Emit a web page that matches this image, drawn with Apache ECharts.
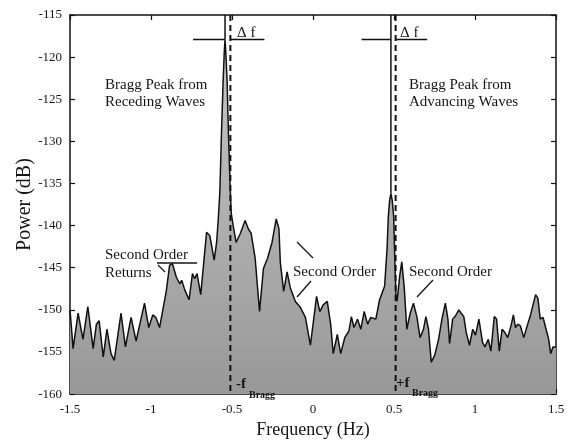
<!DOCTYPE html>
<html>
<head>
<meta charset="utf-8">
<script src="https://cdn.jsdelivr.net/npm/echarts@6/dist/echarts.min.js"></script>
<style>html,body{margin:0;padding:0;background:#fff}#c{width:570px;height:444px}</style>
</head>
<body>
<div id="c"></div>
<script>
// Spectrum: frequency (Hz) and power (dB)
const freq = [-1.500,-1.481,-1.450,-1.420,-1.390,-1.357,-1.337,-1.320,-1.295,-1.272,-1.247,-1.227,-1.185,-1.158,-1.123,-1.092,-1.040,-1.014,-0.989,-0.970,-0.947,-0.927,-0.906,-0.885,-0.868,-0.844,-0.823,-0.810,-0.792,-0.765,-0.744,-0.730,-0.716,-0.693,-0.657,-0.637,-0.610,-0.595,-0.584,-0.575,-0.565,-0.555,-0.548,-0.543,-0.538,-0.530,-0.522,-0.512,-0.505,-0.492,-0.475,-0.450,-0.419,-0.399,-0.382,-0.357,-0.330,-0.306,-0.281,-0.253,-0.227,-0.210,-0.202,-0.181,-0.160,-0.140,-0.109,-0.078,-0.047,-0.016,0.022,0.042,0.063,0.088,0.109,0.125,0.150,0.171,0.196,0.222,0.237,0.253,0.275,0.295,0.316,0.337,0.357,0.388,0.411,0.442,0.457,0.465,0.473,0.481,0.489,0.498,0.505,0.512,0.519,0.535,0.548,0.563,0.579,0.600,0.620,0.641,0.661,0.682,0.697,0.713,0.730,0.751,0.775,0.796,0.817,0.833,0.843,0.862,0.880,0.900,0.915,0.931,0.946,0.966,0.986,1.003,1.024,1.047,1.061,1.082,1.098,1.119,1.133,1.150,1.167,1.185,1.202,1.222,1.237,1.250,1.264,1.280,1.301,1.322,1.343,1.355,1.374,1.388,1.403,1.420,1.436,1.455,1.467,1.481,1.500];
const power = [-150.0,-154.6,-150.4,-153.5,-149.6,-154.6,-151.7,-151.3,-155.6,-152.3,-155.2,-156.0,-150.4,-154.4,-150.9,-153.7,-149.2,-152.1,-150.6,-150.9,-152.1,-150.0,-147.8,-144.7,-144.5,-146.1,-146.9,-146.5,-147.6,-148.8,-145.7,-146.3,-145.7,-148.2,-140.8,-141.2,-144.1,-142.0,-139.0,-136.0,-129.0,-123.0,-119.5,-117.9,-119.5,-123.0,-129.0,-135.0,-138.5,-140.1,-142.0,-141.0,-139.4,-140.4,-140.9,-143.9,-150.2,-145.1,-143.9,-142.0,-139.2,-140.4,-144.3,-147.8,-145.5,-147.4,-149.0,-149.7,-150.9,-154.2,-148.4,-150.2,-149.4,-149.0,-151.7,-155.2,-152.9,-155.2,-153.3,-152.5,-150.8,-152.1,-151.1,-152.3,-150.2,-151.7,-150.9,-151.1,-148.8,-147.2,-142.8,-138.9,-137.0,-136.2,-137.0,-138.9,-144.0,-148.2,-149.0,-146.0,-144.3,-147.3,-152.3,-150.4,-149.2,-150.8,-153.3,-152.3,-150.8,-152.3,-156.2,-155.4,-153.5,-151.1,-149.2,-151.1,-154.0,-151.1,-150.7,-150.0,-150.4,-150.8,-152.7,-154.2,-152.3,-153.0,-151.1,-153.9,-154.4,-153.5,-154.9,-150.8,-151.1,-154.9,-152.3,-152.7,-153.3,-151.9,-150.6,-152.1,-151.7,-151.9,-153.3,-151.9,-150.6,-150.8,-148.2,-148.6,-151.1,-150.9,-152.1,-153.5,-155.2,-154.4,-154.4];

// Reference lines
const braggFreq = [-0.51, 0.51];          // dashed lines (±f Bragg)
const peakFreq = [-0.543, 0.481];         // solid lines at observed peaks
const peakPower = [-117.9, -136.2];
const deltaBarPower = -117.9;
const deltaBars = [[-0.74, -0.543], [-0.51, -0.30], [0.30, 0.481], [0.51, 0.705]];

// Axes
const xTicks = [-1.5, -1, -0.5, 0, 0.5, 1, 1.5];
const yMin = -160, yMax = -115, yStep = 5;

const FONT = '"Liberation Serif", "Times New Roman", serif';
const series = [];
series.push({
  type: 'line', data: freq.map((f, i) => [f, power[i]]), symbol: 'none',
  lineStyle: { color: '#111', width: 1.5 },
  areaStyle: { origin: 'start', opacity: 1, color: new echarts.graphic.LinearGradient(0, 0, 0, 1, [
    { offset: 0, color: '#c6c6c6' }, { offset: 1, color: '#989898' }]) },
  z: 2, silent: true
});
braggFreq.forEach(f => series.push({
  type: 'line', data: [[f, yMax], [f, yMin]], symbol: 'none', silent: true, z: 5,
  lineStyle: { color: '#111', width: 2, type: [6, 4] }
}));
peakFreq.forEach((f, i) => series.push({
  type: 'line', data: [[f, yMax], [f, peakPower[i]]], symbol: 'none', silent: true, z: 5,
  lineStyle: { color: '#111', width: 1.5 }
}));
deltaBars.forEach(b => series.push({
  type: 'line', data: [[b[0], deltaBarPower], [b[1], deltaBarPower]], symbol: 'none', silent: true, z: 5,
  lineStyle: { color: '#111', width: 1.5 }
}));

const axisCommon = {
  type: 'value',
  axisLine: { show: true, onZero: false, lineStyle: { color: '#111', width: 1.5 } },
  axisTick: { show: true, inside: true, length: 5, lineStyle: { color: '#111', width: 1.2 } },
  splitLine: { show: false }
};

const txt = (x, y, text, size, weight) => ({
  type: 'text', x: x, y: y, z: 100,
  style: { text: text, font: (weight ? weight + ' ' : '') + (size || 15) + 'px ' + FONT, fill: '#151515', verticalAlign: 'middle', align: 'left' }
});
const ln = (x1, y1, x2, y2) => ({ type: 'line', z: 100, shape: { x1, y1, x2, y2 }, style: { stroke: '#151515', lineWidth: 1.3 } });

const chart = echarts.init(document.getElementById('c'), null, { renderer: 'canvas' });
chart.setOption({
  animation: false,
  backgroundColor: '#fff',
  grid: { left: 70, right: 14, top: 15, bottom: 43 },
  xAxis: [
    Object.assign({}, axisCommon, {
      min: -1.5, max: 1.5, interval: 0.5, position: 'bottom',
      name: 'Frequency (Hz)', nameLocation: 'middle', nameGap: 20,
      nameTextStyle: { fontFamily: FONT, fontSize: 18, color: '#151515' },
      axisLabel: { fontFamily: FONT, fontSize: 13, color: '#151515', margin: 9,
        formatter: v => xTicks.indexOf(v) >= 0 ? String(v) : '' }
    }),
    Object.assign({}, axisCommon, { min: -1.5, max: 1.5, interval: 0.5, position: 'top', axisLabel: { show: false } })
  ],
  yAxis: [
    Object.assign({}, axisCommon, {
      min: yMin, max: yMax, interval: yStep, position: 'left',
      name: 'Power (dB)', nameLocation: 'middle', nameGap: 35, nameRotate: 90, nameMoveOverlap: false,
      nameTextStyle: { fontFamily: FONT, fontSize: 20, color: '#151515' },
      axisLabel: { fontFamily: FONT, fontSize: 13, color: '#151515', margin: 8 }
    }),
    Object.assign({}, axisCommon, { min: yMin, max: yMax, interval: yStep, position: 'right', axisLabel: { show: false } })
  ],
  series: series,
  graphic: [
    txt(237, 33, 'Δ f', 15),
    txt(400, 33, 'Δ f', 15),
    txt(105, 85, 'Bragg Peak from', 15),
    txt(105, 102, 'Receding Waves', 15),
    txt(409, 85, 'Bragg Peak from', 15),
    txt(409, 102, 'Advancing Waves', 15),
    txt(105, 255, 'Second Order', 15),
    txt(105, 273, 'Returns', 15),
    ln(157, 263, 197, 263),
    ln(158, 265, 165, 272),
    txt(293, 272, 'Second Order', 15),
    ln(297, 242, 313, 258),
    ln(311, 281, 297, 297),
    txt(409, 272, 'Second Order', 15),
    ln(433, 280, 417, 297),
    txt(236, 384, '-f', 15, 'bold'),
    txt(249, 395, 'Bragg', 10, 'bold'),
    txt(396, 383, '+f', 15, 'bold'),
    txt(412, 393, 'Bragg', 10, 'bold')
  ]
});
</script>
</body>
</html>
